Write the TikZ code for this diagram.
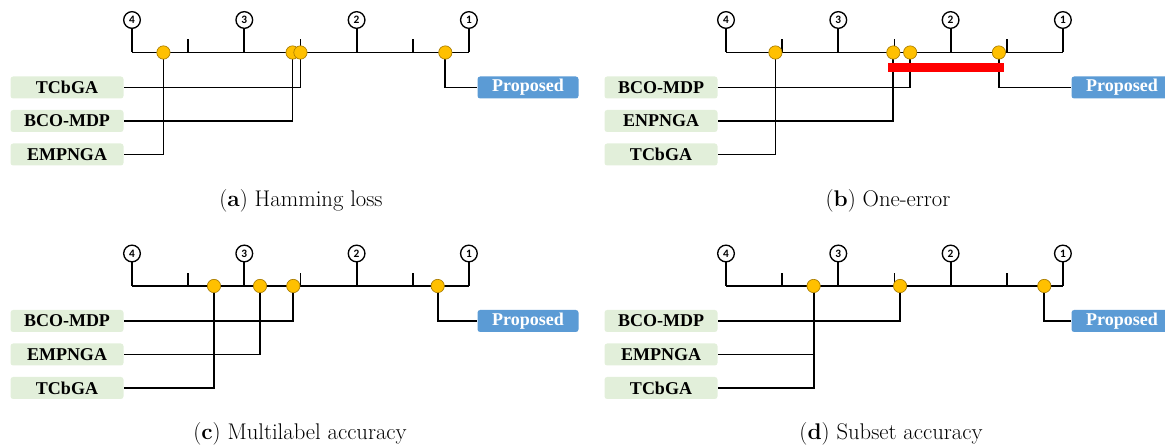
\documentclass[tikz,border=0pt]{standalone}
\usepackage{fontspec}
\usepackage{tikz}
\usetikzlibrary{positioning, calc, backgrounds}

\newfontfamily\labelfont{Liberation Serif}
\newfontfamily\numfont{Carlito}

\definecolor{dotfill}{RGB}{255,192,0}
\definecolor{dotline}{RGB}{170,125,0}
\definecolor{methodfill}{RGB}{226,239,218}
\definecolor{propfill}{RGB}{91,155,213}

% axis with the four circled ranks and the half-rank ticks
\newcommand{\rankaxis}[1]{%
  \draw[axis] ({rk(4)},0) -- ({rk(1)},0);
  \foreach \r in {1,...,4} {
    \node[rankmark] (#1r\r) at ({rk(\r)},-32.5) {\r};
    \draw[axis] (#1r\r) -- ({rk(\r)},0);
  }
  \foreach \r in {1.5,2.5,3.5}
    \draw[axis] ({rk(\r)},0) -- ++(0,-13);
}

\begin{document}
\begin{tikzpicture}[
    x=0.75pt, y=-0.75pt,
    declare function={rk(\r)=(4-\r)*112.3;},
    axis/.style={line width=1.35pt},
    link/.style={line width=1.35pt},
    rankmark/.style={circle, draw, fill=white, line width=1pt, inner sep=0pt,
      minimum size=12.5pt, font=\numfont\bfseries\fontsize{8.5}{8.5}\selectfont},
    dot/.style={circle, fill=dotfill, draw=dotline, line width=0.5pt,
      inner sep=0pt, minimum size=10pt},
    method/.style={rounded corners=2pt, fill=methodfill, inner sep=0pt,
      minimum width=84.75pt, minimum height=16.5pt,
      font=\labelfont\bfseries\fontsize{13.5}{15}\selectfont},
    proposed/.style={method, fill=propfill, text=white, minimum width=75.75pt},
    cdbar/.style={red, line width=6.75pt},
    caption/.style={font=\fontsize{17}{20}\selectfont}
  ]
  \useasboundingbox (0,0) rectangle (1165,448);

  % (a) Hamming loss
  \begin{scope}[shift={(132,52.5)}]
    \rankaxis{a}
    \node[method] (a-tcbga) at (-65,35) {TCbGA};
    \node[method] (a-bco) at (-65,68.5) {BCO-MDP};
    \node[method] (a-emp) at (-65,102) {EMPNGA};
    \node[proposed] (a-prop) at (396,35) {Proposed};
    \node[dot] (a-d1) at ({rk(3.72)},0) {};
    \node[dot] (a-d2) at ({rk(2.57)},0) {};
    \node[dot] (a-d3) at ({rk(2.50)},0) {};
    \node[dot] (a-d4) at ({rk(1.21)},0) {};
    \begin{scope}[on background layer]
      \draw[link] (a-tcbga.east) -| (a-d3);
      \draw[link] (a-bco.east) -| (a-d2);
      \draw[link] (a-emp.east) -| (a-d1);
      \draw[link] (a-d4) |- (a-prop.west);
    \end{scope}
  \end{scope}
  \node[caption] (cap-a) at (301,200.5) {(\textbf{a}) Hamming loss};

  % (b) One-error
  \begin{scope}[shift={(726,52.5)}]
    \rankaxis{b}
    \node[method] (b-bco) at (-65,35) {BCO-MDP};
    \node[method] (b-enp) at (-65,68.5) {ENPNGA};
    \node[method] (b-tcbga) at (-65,102) {TCbGA};
    \node[proposed] (b-prop) at (396,35) {Proposed};
    \node[dot] (b-d1) at ({rk(3.56)},0) {};
    \node[dot] (b-d2) at ({rk(2.51)},0) {};
    \node[dot] (b-d3) at ({rk(2.36)},0) {};
    \node[dot] (b-d4) at ({rk(1.57)},0) {};
    \begin{scope}[on background layer]
      \draw[link] (b-bco.east) -| (b-d3);
      \draw[link] (b-enp.east) -| (b-d2);
      \draw[link] (b-tcbga.east) -| (b-d1);
      \draw[link] (b-d4) |- (b-prop.west);
    \end{scope}
    \coordinate (b-cdl) at ({rk(2.557)},15);
    \coordinate (b-cdr) at ({rk(1.525)},15);
    \draw[cdbar] (b-cdl) -- (b-cdr);
  \end{scope}
  \node[caption] (cap-b) at (888,200.5) {(\textbf{b}) One-error};

  % (c) Multilabel accuracy
  \begin{scope}[shift={(132,286)}]
    \rankaxis{c}
    \node[method] (c-bco) at (-65,35) {BCO-MDP};
    \node[method] (c-emp) at (-65,68.5) {EMPNGA};
    \node[method] (c-tcbga) at (-65,102) {TCbGA};
    \node[proposed] (c-prop) at (396,35) {Proposed};
    \node[dot] (c-d1) at ({rk(3.27)},0) {};
    \node[dot] (c-d2) at ({rk(2.86)},0) {};
    \node[dot] (c-d3) at ({rk(2.564)},0) {};
    \node[dot] (c-d4) at ({rk(1.278)},0) {};
    \begin{scope}[on background layer]
      \draw[link] (c-bco.east) -| (c-d3);
      \draw[link] (c-emp.east) -| (c-d2);
      \draw[link] (c-tcbga.east) -| (c-d1);
      \draw[link] (c-d4) |- (c-prop.west);
    \end{scope}
  \end{scope}
  \node[caption] (cap-c) at (300,434) {(\textbf{c}) Multilabel accuracy};

  % (d) Subset accuracy
  \begin{scope}[shift={(726,286)}]
    \rankaxis{d}
    \node[method] (d-bco) at (-65,35) {BCO-MDP};
    \node[method] (d-emp) at (-65,68.5) {EMPNGA};
    \node[method] (d-tcbga) at (-65,102) {TCbGA};
    \node[proposed] (d-prop) at (396,35) {Proposed};
    \node[dot] (d-d1) at ({rk(3.22)},0) {};
    \node[dot] (d-d2) at ({rk(2.45)},0) {};
    \node[dot] (d-d3) at ({rk(1.166)},0) {};
    \begin{scope}[on background layer]
      \draw[link] (d-bco.east) -| (d-d2);
      \draw[link] (d-emp.east) -| (d-d1);
      \draw[link] (d-tcbga.east) -| (d-d1);
      \draw[link] (d-d3) |- (d-prop.west);
    \end{scope}
  \end{scope}
  \node[caption] (cap-d) at (891,434) {(\textbf{d}) Subset accuracy};
\end{tikzpicture}
\end{document}
